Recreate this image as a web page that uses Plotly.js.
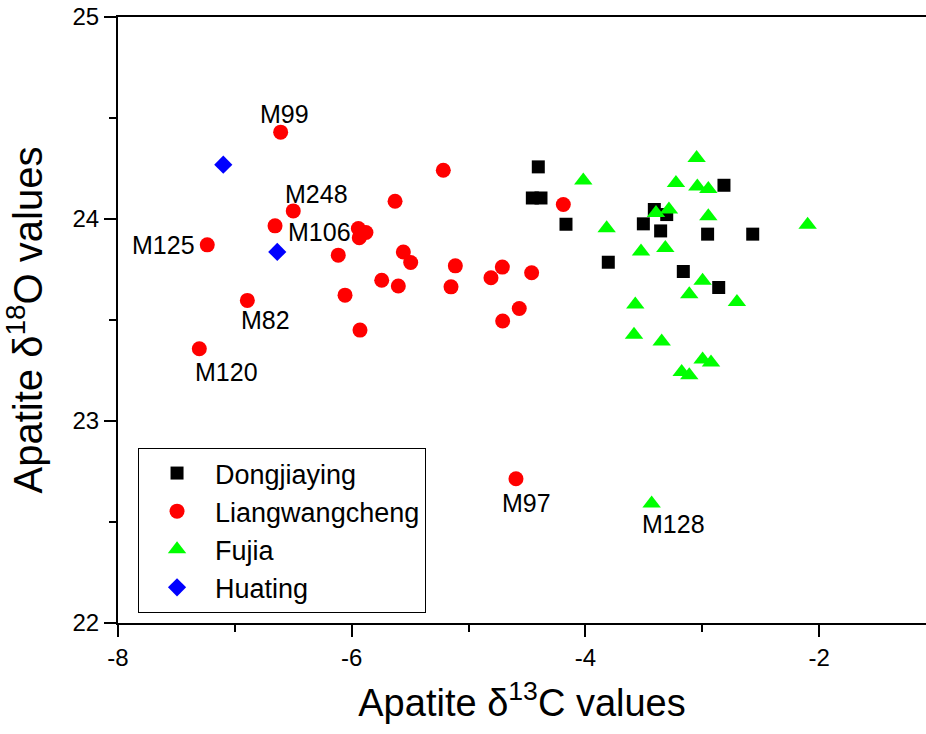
<!DOCTYPE html>
<html>
<head>
<meta charset="utf-8">
<script src="https://cdn.plot.ly/plotly-3.0.1.min.js"></script>
<style>html,body{margin:0;padding:0;background:#fff;}#chart{width:926px;height:734px;}</style>
</head>
<body>
<div id="chart"></div>
<script>
// ---- data ----
var seriesNames = ['Dongjiaying', 'Liangwangcheng', 'Fujia', 'Huating'];

var dongX = [-4.403, -4.454, -4.380, -4.166, -3.804, -2.814, -3.410, -3.304, -3.504, -3.356, -2.954, -2.568, -3.162, -2.859];
var dongY = [24.258, 24.104, 24.104, 23.974, 23.786, 24.167, 24.047, 24.022, 23.976, 23.941, 23.925, 23.925, 23.740, 23.661];

var liangX = [-6.608, -6.500, -6.656, -7.236, -6.893, -7.304, -4.594,
              -5.629, -5.943, -5.878, -5.935, -6.115, -5.558, -5.495, -5.743, -5.601, -6.057, -5.929,
              -5.216, -5.113, -5.150, -4.711, -4.808, -4.460, -4.566, -4.708, -4.189];
var liangY = [24.430, 24.040, 23.966, 23.872, 23.597, 23.358, 22.714,
              24.088, 23.953, 23.933, 23.907, 23.821, 23.837, 23.785, 23.697, 23.668, 23.623, 23.450,
              24.241, 23.768, 23.664, 23.762, 23.709, 23.734, 23.557, 23.495, 24.072];
var liangLabels = ['M99', 'M248', 'M106', 'M125', 'M82', 'M120', 'M97'];

var fujiaX = [-3.048, -4.018, -3.225, -3.042, -2.948, -3.396, -3.285, -2.948, -3.818, -2.098, -3.524, -3.316,
              -2.997, -3.111, -2.703, -3.573, -3.584, -3.347, -2.997, -2.925, -3.176, -3.111, -3.433];
var fujiaY = [24.302, 24.190, 24.178, 24.161, 24.149, 24.030, 24.047, 24.014, 23.954, 23.971, 23.839, 23.856,
              23.694, 23.628, 23.589, 23.577, 23.427, 23.394, 23.305, 23.289, 23.243, 23.226, 22.592];
var fujiaLabels = ['M128'];
var fujiaLabelIdx = [22];

var huaX = [-7.099, -6.637];
var huaY = [24.269, 23.837];

var xTickVals = [-8, -6, -4, -2];
var yTickVals = [22, 23, 24, 25];

// ---- styling / layout ----
var FONT = '"Liberation Sans", Arial, sans-serif';

var traces = [
  {x: dongX, y: dongY, name: seriesNames[0], type: 'scatter', mode: 'markers',
   marker: {symbol: 'square', size: 13, color: '#000000'}},
  {x: liangX, y: liangY, name: seriesNames[1], type: 'scatter', mode: 'markers',
   marker: {symbol: 'circle', size: 15, color: '#ff0000'}},
  {x: fujiaX, y: fujiaY, name: seriesNames[2], type: 'scatter', mode: 'markers',
   marker: {symbol: 'triangle-up', size: 16, color: '#00ff00'}},
  {x: huaX, y: huaY, name: seriesNames[3], type: 'scatter', mode: 'markers',
   marker: {symbol: 'diamond', size: 14, color: '#0000ff'}}
];

// label offsets in pixels (placement only)
var liangOffsets = [[4, 18], [23, 17], [44, -6], [-44, 0], [18, -20], [27, -23], [11, -24]];
var fujiaOffsets = [[22, -21]];

var annotations = [];
liangLabels.forEach(function (t, i) {
  annotations.push({x: liangX[i], y: liangY[i], xref: 'x', yref: 'y', text: t, showarrow: false,
    xshift: liangOffsets[i][0], yshift: liangOffsets[i][1], font: {family: FONT, size: 25, color: '#000'}});
});
fujiaLabels.forEach(function (t, i) {
  var k = fujiaLabelIdx[i];
  annotations.push({x: fujiaX[k], y: fujiaY[k], xref: 'x', yref: 'y', text: t, showarrow: false,
    xshift: fujiaOffsets[i][0], yshift: fujiaOffsets[i][1], font: {family: FONT, size: 25, color: '#000'}});
});

var layout = {
  width: 926, height: 734,
  margin: {l: 118, r: 0, t: 17, b: 111, pad: 0},
  paper_bgcolor: '#ffffff', plot_bgcolor: '#ffffff',
  font: {family: FONT, color: '#000'},
  showlegend: true,
  legend: {
    x: 0.0248, y: 0.0165, xanchor: 'left', yanchor: 'bottom',
    bordercolor: '#000', borderwidth: 1, bgcolor: '#ffffff',
    font: {family: FONT, size: 27, color: '#000'},
    itemwidth: 66
  },
  xaxis: {
    range: [-8, -1.085], tickmode: 'array', tickvals: xTickVals, ticktext: xTickVals.map(String),
    showgrid: false, zeroline: false, showline: true, linecolor: '#000', linewidth: 2, mirror: true,
    ticks: 'outside', ticklen: 12, tickwidth: 2, tickcolor: '#000',
    minor: {dtick: 1, ticks: 'outside', ticklen: 7, tickwidth: 2, tickcolor: '#000', showgrid: false},
    tickfont: {family: FONT, size: 24, color: '#000'},
    title: {text: '\u00a0\u00a0Apatite \u03b4<sup>13</sup>C values', font: {family: FONT, size: 38, color: '#000'}, standoff: 20}
  },
  yaxis: {
    range: [22, 25], tickmode: 'array', tickvals: yTickVals, ticktext: yTickVals.map(String),
    showgrid: false, zeroline: false, showline: true, linecolor: '#000', linewidth: 2, mirror: false,
    ticks: 'outside', ticklen: 12, tickwidth: 2, tickcolor: '#000',
    minor: {dtick: 0.5, ticks: 'outside', ticklen: 7, tickwidth: 2, tickcolor: '#000', showgrid: false},
    tickfont: {family: FONT, size: 24, color: '#000'},
    title: {text: 'Apatite \u03b4<sup>18</sup>O values', font: {family: FONT, size: 40, color: '#000'}, standoff: 18}
  },
  annotations: annotations
};

Plotly.newPlot('chart', traces, layout, {displayModeBar: false, staticPlot: true});
</script>
</body>
</html>
